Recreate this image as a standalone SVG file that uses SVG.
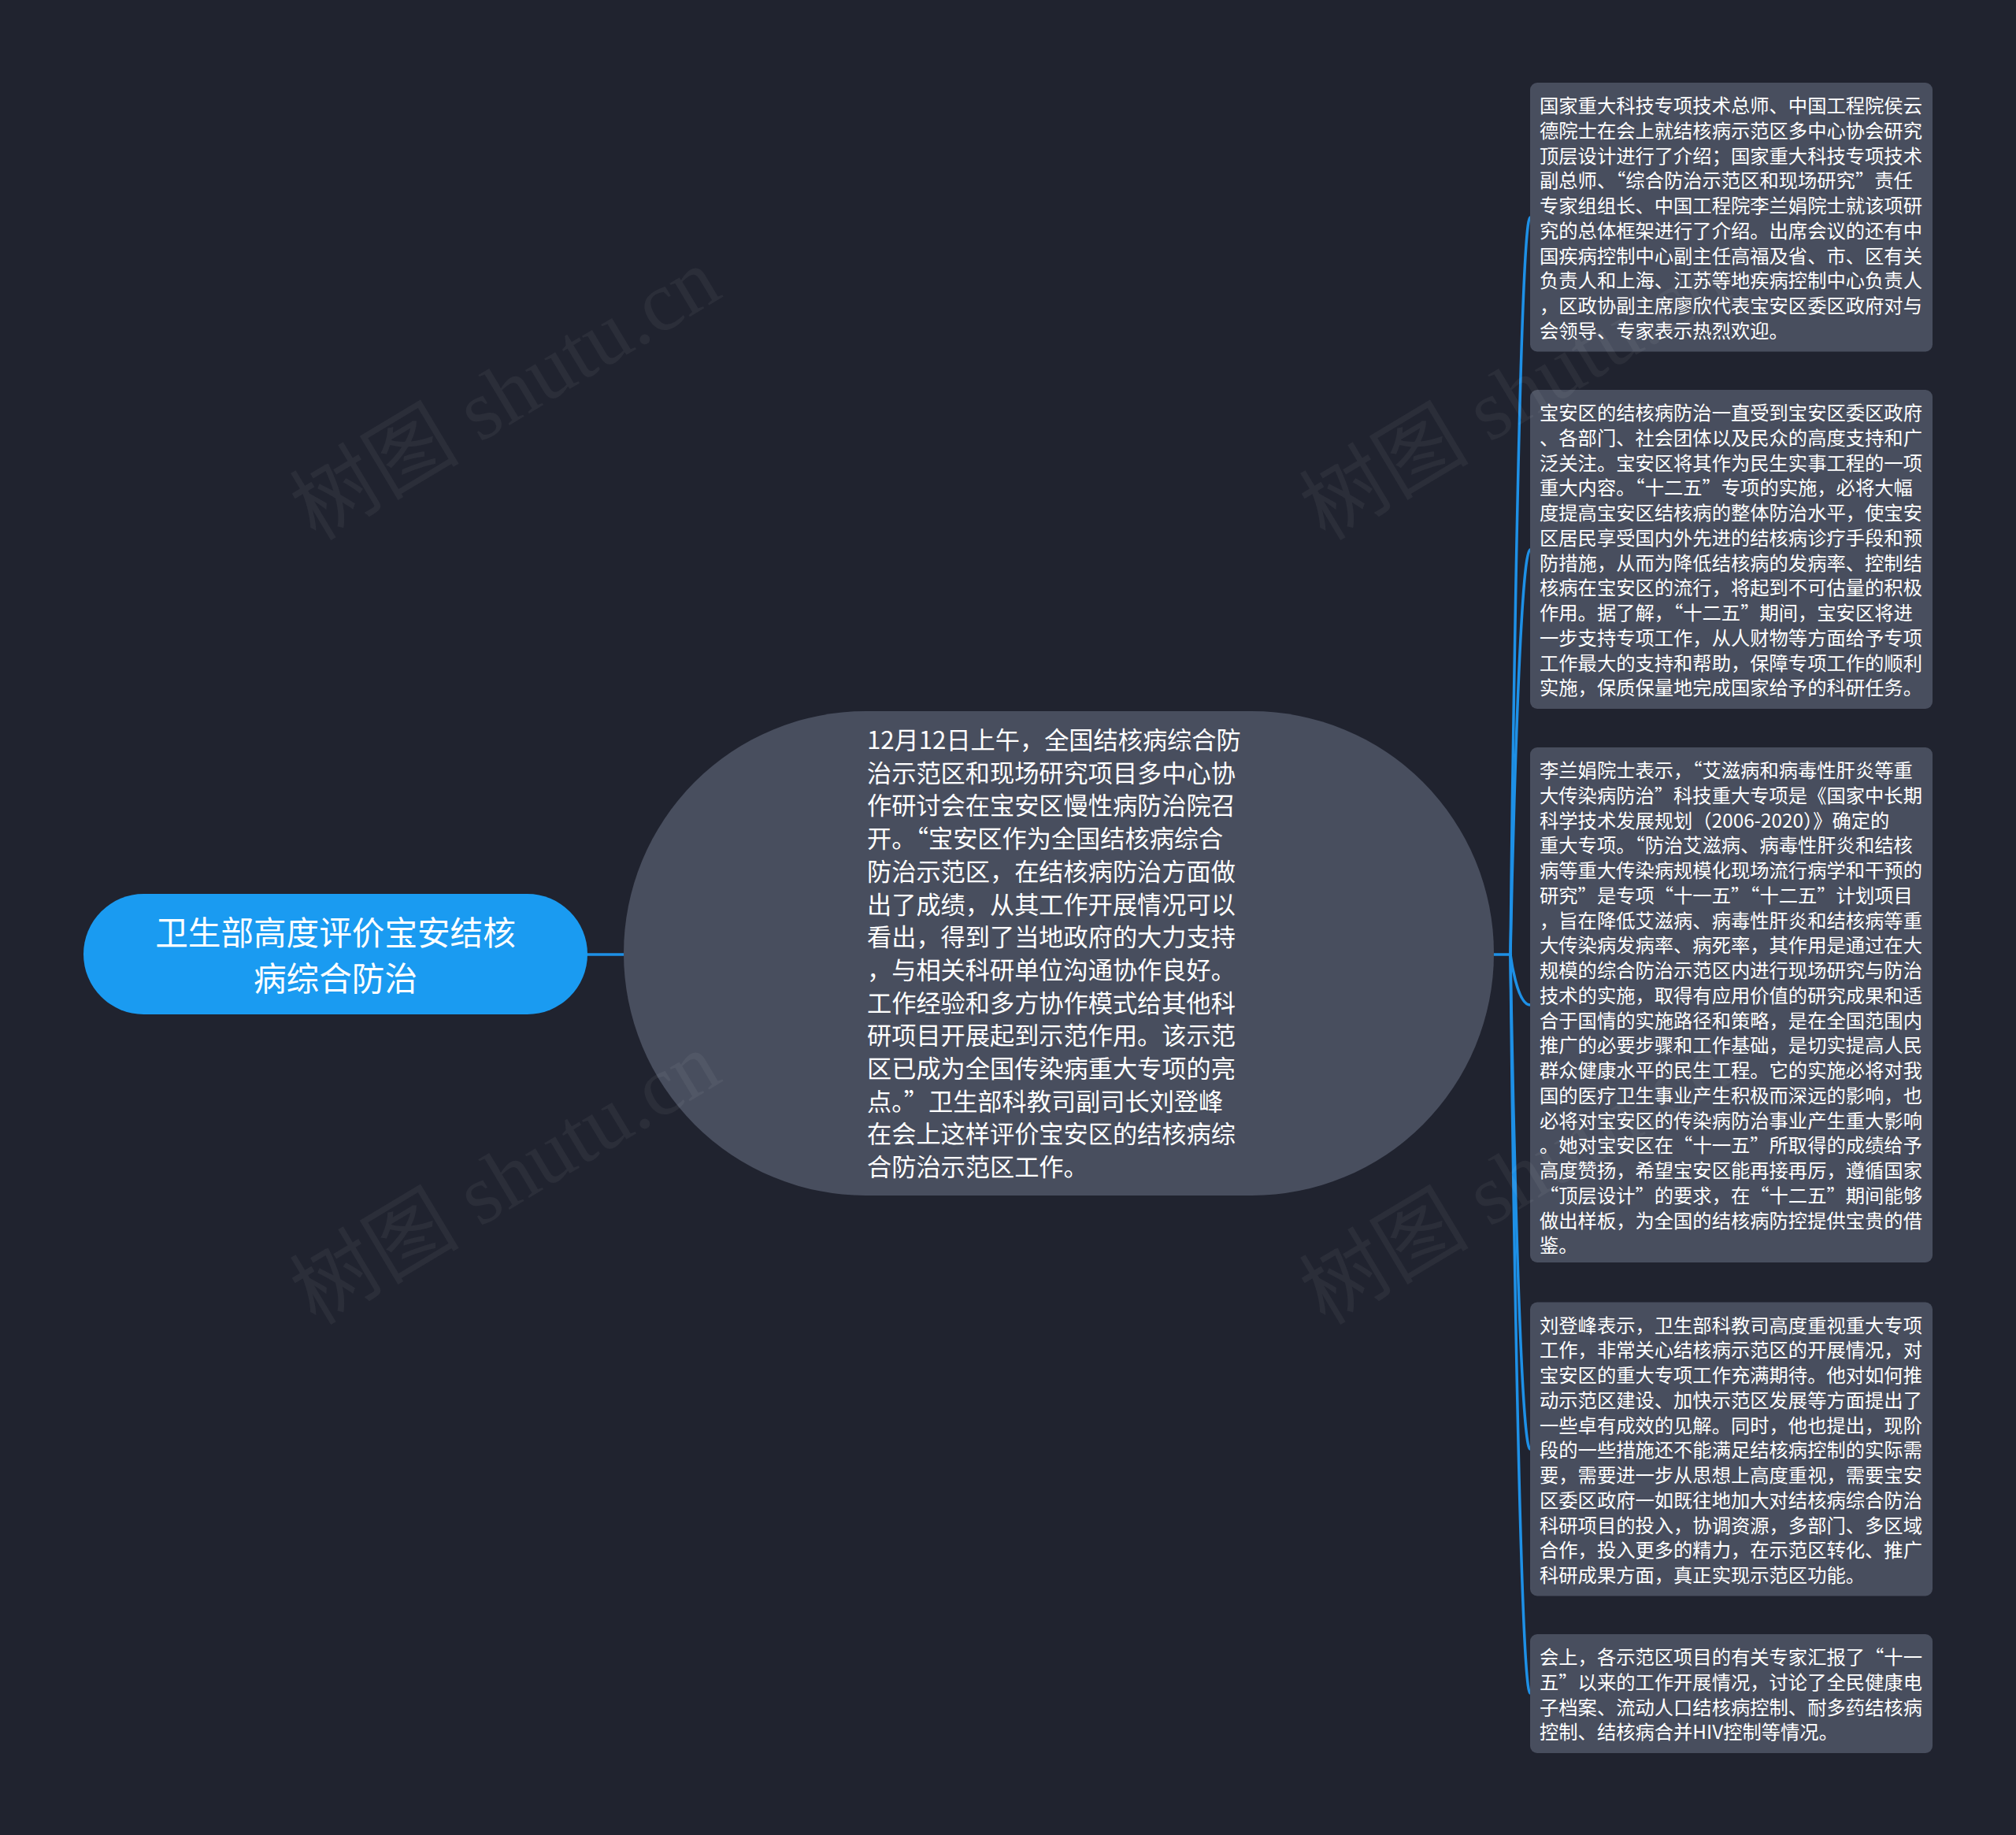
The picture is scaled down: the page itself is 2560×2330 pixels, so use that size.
<svg xmlns="http://www.w3.org/2000/svg" width="2560" height="2330" viewBox="0 0 2560 2330">
<style>
.bg{fill:#20232f}
.box{fill:#484e5e}
.root{fill:#1a9bf1}
.conn{fill:none;stroke:#1e90e6;stroke-width:3.5;stroke-linecap:round}
.t{font-family:"Noto Sans CJK SC","Noto Sans",sans-serif;fill:#ffffff}
.bt{font-size:24.3px}
.ct{font-size:31.2px}
.rt{font-size:41.6px;text-anchor:middle}
.q{font-feature-settings:"fwid" 1}
.wm{font-family:"Liberation Serif","Noto Sans CJK SC",serif;font-size:108px;fill:#ffffff;fill-opacity:0.05}
</style>
<rect class="bg" x="0" y="0" width="2560" height="2330"/>
<g id="connectors">
<line class="conn" x1="746" y1="1212" x2="792" y2="1212"/>
<path class="conn" d="M1897 1212 L1918 1212"/>
<path class="conn" d="M1918 1212 C1918 1212 1928 276 1943 276"/>
<path class="conn" d="M1918 1212 C1918 1212 1928 698 1943 698"/>
<path class="conn" d="M1918 1212 C1918 1212 1926 1276 1943 1276"/>
<path class="conn" d="M1918 1212 C1918 1212 1928 1840 1943 1840"/>
<path class="conn" d="M1918 1212 C1918 1212 1928 2150 1943 2150"/>
</g>
<g id="root">
<rect class="root" x="106" y="1135" width="640" height="153" rx="76.5"/>
<text class="t rt"><tspan x="426" y="1200">卫生部高度评价宝安结核</tspan><tspan x="426" y="1258">病综合防治</tspan></text>
</g>
<g id="center">
<rect class="box" x="792" y="903" width="1105" height="615" rx="307.5"/>
<text class="t ct">
<tspan x="1101" y="951">12月12日上午，全国结核病综合防</tspan>
<tspan x="1101" y="992.7">治示范区和现场研究项目多中心协</tspan>
<tspan x="1101" y="1034.4">作研讨会在宝安区慢性病防治院召</tspan>
<tspan x="1101" y="1076.1">开。<tspan class="q">“</tspan>宝安区作为全国结核病综合</tspan>
<tspan x="1101" y="1117.8">防治示范区，在结核病防治方面做</tspan>
<tspan x="1101" y="1159.5">出了成绩，从其工作开展情况可以</tspan>
<tspan x="1101" y="1201.2">看出，得到了当地政府的大力支持</tspan>
<tspan x="1101" y="1242.9">，与相关科研单位沟通协作良好。</tspan>
<tspan x="1101" y="1284.6">工作经验和多方协作模式给其他科</tspan>
<tspan x="1101" y="1326.3">研项目开展起到示范作用。该示范</tspan>
<tspan x="1101" y="1368">区已成为全国传染病重大专项的亮</tspan>
<tspan x="1101" y="1409.7">点。<tspan class="q">”</tspan>卫生部科教司副司长刘登峰</tspan>
<tspan x="1101" y="1451.4">在会上这样评价宝安区的结核病综</tspan>
<tspan x="1101" y="1493.1">合防治示范区工作。</tspan>
</text>
</g>
<g id="box1">
<rect class="box" x="1943" y="105" width="511" height="341.5" rx="9"/>
<text class="t bt">
<tspan x="1955" y="143">国家重大科技专项技术总师、中国工程院侯云</tspan>
<tspan x="1955" y="174.75">德院士在会上就结核病示范区多中心协会研究</tspan>
<tspan x="1955" y="206.5">顶层设计进行了介绍；国家重大科技专项技术</tspan>
<tspan x="1955" y="238.25">副总师、<tspan class="q">“</tspan>综合防治示范区和现场研究<tspan class="q">”</tspan>责任</tspan>
<tspan x="1955" y="270">专家组组长、中国工程院李兰娟院士就该项研</tspan>
<tspan x="1955" y="301.75">究的总体框架进行了介绍。出席会议的还有中</tspan>
<tspan x="1955" y="333.5">国疾病控制中心副主任高福及省、市、区有关</tspan>
<tspan x="1955" y="365.25">负责人和上海、江苏等地疾病控制中心负责人</tspan>
<tspan x="1955" y="397">，区政协副主席廖欣代表宝安区委区政府对与</tspan>
<tspan x="1955" y="428.75">会领导、专家表示热烈欢迎。</tspan>
</text>
</g>
<g id="box2">
<rect class="box" x="1943" y="495" width="511" height="405" rx="9"/>
<text class="t bt">
<tspan x="1955" y="533">宝安区的结核病防治一直受到宝安区委区政府</tspan>
<tspan x="1955" y="564.75">、各部门、社会团体以及民众的高度支持和广</tspan>
<tspan x="1955" y="596.5">泛关注。宝安区将其作为民生实事工程的一项</tspan>
<tspan x="1955" y="628.25">重大内容。<tspan class="q">“</tspan>十二五<tspan class="q">”</tspan>专项的实施，必将大幅</tspan>
<tspan x="1955" y="660">度提高宝安区结核病的整体防治水平，使宝安</tspan>
<tspan x="1955" y="691.75">区居民享受国内外先进的结核病诊疗手段和预</tspan>
<tspan x="1955" y="723.5">防措施，从而为降低结核病的发病率、控制结</tspan>
<tspan x="1955" y="755.25">核病在宝安区的流行，将起到不可估量的积极</tspan>
<tspan x="1955" y="787">作用。据了解，<tspan class="q">“</tspan>十二五<tspan class="q">”</tspan>期间，宝安区将进</tspan>
<tspan x="1955" y="818.75">一步支持专项工作，从人财物等方面给予专项</tspan>
<tspan x="1955" y="850.5">工作最大的支持和帮助，保障专项工作的顺利</tspan>
<tspan x="1955" y="882.25">实施，保质保量地完成国家给予的科研任务。</tspan>
</text>
</g>
<g id="box3">
<rect class="box" x="1943" y="949" width="511" height="654" rx="9"/>
<text class="t bt">
<tspan x="1955" y="987">李兰娟院士表示，<tspan class="q">“</tspan>艾滋病和病毒性肝炎等重</tspan>
<tspan x="1955" y="1018.75">大传染病防治<tspan class="q">”</tspan>科技重大专项是《国家中长期</tspan>
<tspan x="1955" y="1050.5">科学技术发展规划（2006-2020）》确定的</tspan>
<tspan x="1955" y="1082.25">重大专项。<tspan class="q">“</tspan>防治艾滋病、病毒性肝炎和结核</tspan>
<tspan x="1955" y="1114">病等重大传染病规模化现场流行病学和干预的</tspan>
<tspan x="1955" y="1145.75">研究<tspan class="q">”</tspan>是专项<tspan class="q">“</tspan>十一五<tspan class="q">”“</tspan>十二五<tspan class="q">”</tspan>计划项目</tspan>
<tspan x="1955" y="1177.5">，旨在降低艾滋病、病毒性肝炎和结核病等重</tspan>
<tspan x="1955" y="1209.25">大传染病发病率、病死率，其作用是通过在大</tspan>
<tspan x="1955" y="1241">规模的综合防治示范区内进行现场研究与防治</tspan>
<tspan x="1955" y="1272.75">技术的实施，取得有应用价值的研究成果和适</tspan>
<tspan x="1955" y="1304.5">合于国情的实施路径和策略，是在全国范围内</tspan>
<tspan x="1955" y="1336.25">推广的必要步骤和工作基础，是切实提高人民</tspan>
<tspan x="1955" y="1368">群众健康水平的民生工程。它的实施必将对我</tspan>
<tspan x="1955" y="1399.75">国的医疗卫生事业产生积极而深远的影响，也</tspan>
<tspan x="1955" y="1431.5">必将对宝安区的传染病防治事业产生重大影响</tspan>
<tspan x="1955" y="1463.25">。她对宝安区在<tspan class="q">“</tspan>十一五<tspan class="q">”</tspan>所取得的成绩给予</tspan>
<tspan x="1955" y="1495">高度赞扬，希望宝安区能再接再厉，遵循国家</tspan>
<tspan x="1955" y="1526.75"><tspan class="q">“</tspan>顶层设计<tspan class="q">”</tspan>的要求，在<tspan class="q">“</tspan>十二五<tspan class="q">”</tspan>期间能够</tspan>
<tspan x="1955" y="1558.5">做出样板，为全国的结核病防控提供宝贵的借</tspan>
<tspan x="1955" y="1590.25">鉴。</tspan>
</text>
</g>
<g id="box4">
<rect class="box" x="1943" y="1653.5" width="511" height="373" rx="9"/>
<text class="t bt">
<tspan x="1955" y="1691.5">刘登峰表示，卫生部科教司高度重视重大专项</tspan>
<tspan x="1955" y="1723.25">工作，非常关心结核病示范区的开展情况，对</tspan>
<tspan x="1955" y="1755">宝安区的重大专项工作充满期待。他对如何推</tspan>
<tspan x="1955" y="1786.75">动示范区建设、加快示范区发展等方面提出了</tspan>
<tspan x="1955" y="1818.5">一些卓有成效的见解。同时，他也提出，现阶</tspan>
<tspan x="1955" y="1850.25">段的一些措施还不能满足结核病控制的实际需</tspan>
<tspan x="1955" y="1882">要，需要进一步从思想上高度重视，需要宝安</tspan>
<tspan x="1955" y="1913.75">区委区政府一如既往地加大对结核病综合防治</tspan>
<tspan x="1955" y="1945.5">科研项目的投入，协调资源，多部门、多区域</tspan>
<tspan x="1955" y="1977.25">合作，投入更多的精力，在示范区转化、推广</tspan>
<tspan x="1955" y="2009">科研成果方面，真正实现示范区功能。</tspan>
</text>
</g>
<g id="box5">
<rect class="box" x="1943" y="2075" width="511" height="151" rx="9"/>
<text class="t bt">
<tspan x="1955" y="2113">会上，各示范区项目的有关专家汇报了<tspan class="q">“</tspan>十一</tspan>
<tspan x="1955" y="2144.75">五<tspan class="q">”</tspan>以来的工作开展情况，讨论了全民健康电</tspan>
<tspan x="1955" y="2176.5">子档案、流动人口结核病控制、耐多药结核病</tspan>
<tspan x="1955" y="2208.25">控制、结核病合并HIV控制等情况。</tspan>
</text>
</g>
<g id="watermark">
<text class="wm" x="645" y="536" text-anchor="middle" transform="rotate(-31 645 506)">树图 shutu.cn</text>
<text class="wm" x="645" y="1532" text-anchor="middle" transform="rotate(-31 645 1502)">树图 shutu.cn</text>
<text class="wm" x="1927" y="536" text-anchor="middle" transform="rotate(-31 1927 506)">树图 shutu.cn</text>
<text class="wm" x="1927" y="1532" text-anchor="middle" transform="rotate(-31 1927 1502)">树图 shutu.cn</text>
</g>
</svg>
